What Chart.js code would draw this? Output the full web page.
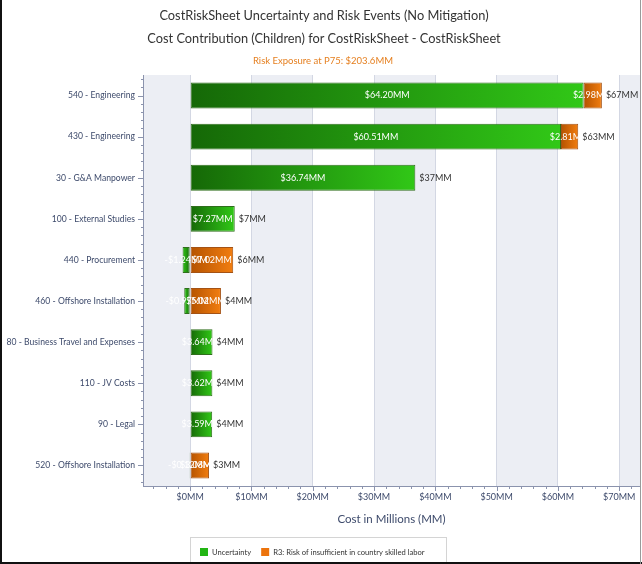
<!DOCTYPE html>
<html>
<head>
<meta charset="utf-8">
<title>Cost Contribution</title>
<script src="https://cdn.jsdelivr.net/npm/chart.js@4.4.0/dist/chart.umd.min.js"></script>
<style>
  html, body { margin: 0; padding: 0; background: #fff; }
  canvas { display: block; }
</style>
</head>
<body>
<canvas id="chart" width="642" height="564"></canvas>
<script>
const categories = [
    '540 - Engineering',
    '430 - Engineering',
    '30 - G&A Manpower',
    '100 - External Studies',
    '440 - Procurement',
    '460 - Offshore Installation',
    '80 - Business Travel and Expenses',
    '110 - JV Costs',
    '90 - Legal',
    '520 - Offshore Installation'
];
const uncertainty = [64.20, 60.51, 36.74, 7.27, -1.24, -0.97, 3.64, 3.62, 3.59, -0.12];
const riskR3 = [2.98, 2.81, null, null, 7.02, 5.02, null, null, null, 3.08];
const xTicks = [0, 10, 20, 30, 40, 50, 60, 70];

const FONT = "Lato, 'Open Sans', sans-serif";
const NAVY = '#3d4a6b';

// segment start/end along the value axis
function segRange(ds, i) {
    if (ds === 0) return [0, uncertainty[i]];
    const start = uncertainty[i] > 0 ? uncertainty[i] : 0;
    return [start, start + riskR3[i]];
}

function barFill(dark, bright) {
    return function (c) {
        const chart = c.chart;
        const x = chart.scales && chart.scales.x;
        if (c.type !== 'data' || !x || c.raw == null) return bright;
        const [a, b] = segRange(c.datasetIndex, c.dataIndex);
        const p0 = x.getPixelForValue(a);
        const p1 = x.getPixelForValue(b);
        if (!isFinite(p0) || !isFinite(p1) || p0 === p1) return bright;
        const g = chart.ctx.createLinearGradient(p0, 0, p1, 0);
        g.addColorStop(0, dark);
        g.addColorStop(1, bright);
        return g;
    };
}

const money = v => (v < 0 ? '-$' : '$') + Math.abs(v).toFixed(2) + 'MM';

// shaded bands behind every other decade
const bandsPlugin = {
    id: 'bands',
    beforeDraw(chart) {
        const { ctx, chartArea: a, scales: { x } } = chart;
        ctx.save();
        ctx.fillStyle = '#eceef4';
        const edges = [x.min].concat(xTicks, [x.max]);
        for (let i = 0; i < edges.length - 1; i++) {
            const lo = edges[i], hi = edges[i + 1];
            if (lo < 0 || (lo >= 0 && Math.round(lo / 10) % 2 === 1) || lo >= 70) {
                const p0 = x.getPixelForValue(lo), p1 = x.getPixelForValue(hi);
                ctx.fillRect(p0, a.top, p1 - p0, a.bottom - a.top);
            }
        }
        ctx.restore();
    }
};

// small tick marks on both axes, segment labels, totals, legend and frame
const decorPlugin = {
    id: 'decor',
    afterDatasetsDraw(chart) {
        const { ctx, scales: { x } } = chart;
        ctx.save();
        ctx.font = '9px ' + FONT;
        ctx.textBaseline = 'middle';
        ctx.textAlign = 'center';
        ctx.fillStyle = '#ffffff';
        chart.data.datasets.forEach((ds, di) => {
            chart.getDatasetMeta(di).data.forEach((el, i) => {
                const v = ds.data[i];
                if (v == null) return;
                ctx.fillText(money(v), (el.x + el.base) / 2, el.y);
            });
        });
        ctx.fillStyle = '#333';
        ctx.textAlign = 'left';
        const meta = chart.getDatasetMeta(0);
        categories.forEach((c, i) => {
            const total = uncertainty[i] + (riskR3[i] || 0);
            const end = Math.max(uncertainty[i], 0) + (riskR3[i] || 0);
            ctx.fillText('$' + Math.round(total) + 'MM', x.getPixelForValue(end) + 4, meta.data[i].y);
        });
        ctx.restore();
    },
    afterDraw(chart) {
        const { ctx, chartArea: a, scales: { x, y } } = chart;
        ctx.save();
        ctx.strokeStyle = '#8b93ad';
        ctx.lineWidth = 1;
        ctx.beginPath();
        for (let v = -6; v <= x.max; v += 2) {
            const px = Math.round(x.getPixelForValue(v)) + 0.5;
            const len = v % 10 === 0 ? 5 : 3;
            ctx.moveTo(px, a.bottom);
            ctx.lineTo(px, a.bottom + len);
        }
        const h = (a.bottom - a.top) / categories.length;
        for (let i = 0; i < categories.length; i++) {
            const cy = y.getPixelForTick(i);
            for (let k = -2; k <= 2; k++) {
                const py = Math.round(cy + k * h / 5) + 0.5;
                const len = k === 0 ? 5 : 2;
                ctx.moveTo(a.left, py);
                ctx.lineTo(a.left - len, py);
            }
        }
        ctx.stroke();

        // titles
        ctx.textAlign = 'center';
        ctx.textBaseline = 'middle';
        ctx.fillStyle = '#333';
        ctx.font = '12.8px ' + FONT;
        ctx.fillText('CostRiskSheet Uncertainty and Risk Events (No Mitigation)', 324, 16);
        ctx.fillText('Cost Contribution (Children) for CostRiskSheet - CostRiskSheet', 324, 39);
        ctx.fillStyle = '#e57f1f';
        ctx.font = '9.5px ' + FONT;
        ctx.fillText('Risk Exposure at P75: $203.6MM', 323, 61);

        // legend
        ctx.strokeStyle = '#d4d4d4';
        ctx.strokeRect(190.5, 537.5, 256, 40);
        ctx.font = '7.6px ' + FONT;
        ctx.textAlign = 'left';
        const items = chart.data.datasets.map(d => [d.label, d.legendColor]);
        let lx = 200;
        items.forEach(([label, col]) => {
            ctx.fillStyle = col;
            ctx.fillRect(lx, 548, 8, 8);
            ctx.fillStyle = '#333';
            ctx.fillText(label, lx + 12, 552.5);
            lx += 12 + ctx.measureText(label).width + 10;
        });

        // outer frame
        ctx.fillStyle = '#111';
        ctx.fillRect(0, 0, 2, 564);
        ctx.fillRect(0, 562, 642, 2);
        ctx.fillStyle = '#9a9a9a';
        ctx.fillRect(640, 0, 1, 564);
        ctx.restore();
    }
};

const ctx = document.getElementById('chart');
const myChart = new Chart(ctx, {
    type: 'bar',
    data: {
        labels: categories,
        datasets: [
            {
                label: 'Uncertainty',
                data: uncertainty,
                backgroundColor: barFill('#156807', '#31c817'),
                borderColor: '#2f6e1c',
                borderWidth: 1,
                borderSkipped: false,
                legendColor: '#22b514',
                barPercentage: 0.7,
                categoryPercentage: 0.9
            },
            {
                label: 'R3: Risk of insufficient in country skilled labor',
                data: riskR3,
                backgroundColor: barFill('#b45200', '#f27e10'),
                borderColor: '#a45214',
                borderWidth: 1,
                borderSkipped: false,
                legendColor: '#ec730c',
                barPercentage: 0.7,
                categoryPercentage: 0.9
            }
        ]
    },
    options: {
        indexAxis: 'y',
        responsive: false,
        animation: false,
        devicePixelRatio: 1,
        layout: { padding: { left: 2, top: 75, right: 2, bottom: 35 } },
        plugins: {
            legend: { display: false },
            title: { display: false },
            tooltip: { enabled: false }
        },
        scales: {
            x: {
                type: 'linear',
                stacked: true,
                min: -7.7,
                max: 73.4,
                afterBuildTicks: s => { s.ticks = xTicks.map(v => ({ value: v })); },
                afterFit: s => { s.height = 43; },
                ticks: {
                    callback: v => '$' + v + 'MM',
                    color: NAVY,
                    font: { size: 9, family: FONT },
                    padding: 6,
                    maxRotation: 0,
                    autoSkip: false
                },
                grid: { color: '#d3d7e3', drawTicks: false },
                border: { color: '#8b93ad' },
                title: {
                    display: true,
                    text: 'Cost in Millions (MM)',
                    color: NAVY,
                    font: { size: 11.5, family: FONT },
                    padding: { top: 2, bottom: 3 }
                }
            },
            y: {
                stacked: true,
                afterFit: s => { s.width = 141; },
                ticks: {
                    color: NAVY,
                    font: { size: 8.6, family: FONT },
                    padding: 8,
                    autoSkip: false
                },
                grid: { display: false, drawTicks: false },
                border: { color: '#8b93ad' }
            }
        }
    },
    plugins: [bandsPlugin, decorPlugin]
});
</script>
</body>
</html>
